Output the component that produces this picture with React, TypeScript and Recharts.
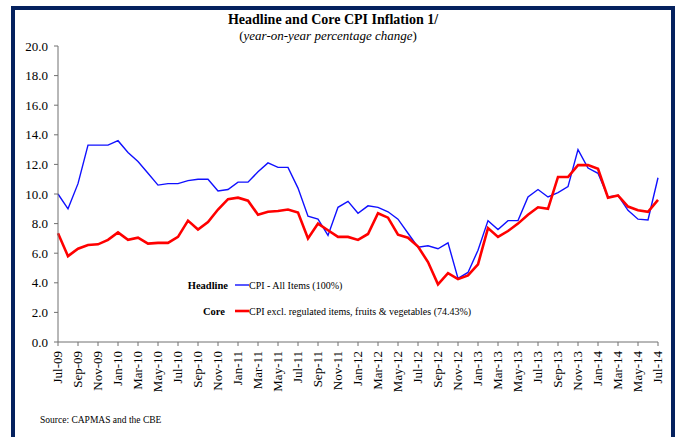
import React from "react";
import { LineChart, Line, XAxis, YAxis } from "recharts";

const months = [
  "Jul-09","Aug-09","Sep-09","Oct-09","Nov-09","Dec-09",
  "Jan-10","Feb-10","Mar-10","Apr-10","May-10","Jun-10",
  "Jul-10","Aug-10","Sep-10","Oct-10","Nov-10","Dec-10",
  "Jan-11","Feb-11","Mar-11","Apr-11","May-11","Jun-11",
  "Jul-11","Aug-11","Sep-11","Oct-11","Nov-11","Dec-11",
  "Jan-12","Feb-12","Mar-12","Apr-12","May-12","Jun-12",
  "Jul-12","Aug-12","Sep-12","Oct-12","Nov-12","Dec-12",
  "Jan-13","Feb-13","Mar-13","Apr-13","May-13","Jun-13",
  "Jul-13","Aug-13","Sep-13","Oct-13","Nov-13","Dec-13",
  "Jan-14","Feb-14","Mar-14","Apr-14","May-14","Jun-14",
  "Jul-14",
];

const headline = [
  10.0, 9.0, 10.7, 13.3, 13.3, 13.3, 13.6, 12.8, 12.2, 11.4, 10.6, 10.7,
  10.7, 10.9, 11.0, 11.0, 10.2, 10.3, 10.8, 10.8, 11.5, 12.1, 11.8, 11.8,
  10.4, 8.5, 8.3, 7.2, 9.1, 9.5, 8.7, 9.2, 9.1, 8.8, 8.3, 7.35,
  6.4, 6.5, 6.3, 6.7, 4.3, 4.7, 6.2, 8.2, 7.6, 8.2, 8.2, 9.8,
  10.3, 9.8, 10.1, 10.5, 13.0, 11.75, 11.4, 9.8, 9.9, 8.9, 8.3, 8.25,
  11.1,
];

const core = [
  7.35, 5.8, 6.3, 6.55, 6.6, 6.9, 7.4, 6.9, 7.05, 6.65, 6.7, 6.7,
  7.1, 8.2, 7.6, 8.1, 8.95, 9.65, 9.75, 9.55, 8.6, 8.8, 8.85, 8.95,
  8.75, 7.0, 8.0, 7.55, 7.1, 7.1, 6.9, 7.3, 8.7, 8.4, 7.25, 7.05,
  6.45, 5.4, 3.9, 4.65, 4.25, 4.5, 5.25, 7.7, 7.1, 7.5, 8.0, 8.6,
  9.1, 9.0, 11.15, 11.15, 11.95, 11.95, 11.7, 9.75, 9.9, 9.15, 8.9, 8.8,
  9.6,
];

const yTicks = [0, 2, 4, 6, 8, 10, 12, 14, 16, 18, 20];

const data = months.map((m, i) => ({ m, headline: headline[i], core: core[i] }));

const FONT = '"Liberation Serif", "Times New Roman", serif';
const AXIS = "#707070";

const XTick = (props: any) => {
  const { x, y, payload } = props;
  return (
    <g transform={`translate(${x},${y})`}>
      <text
        transform="rotate(-90)"
        x={0}
        y={4}
        textAnchor="end"
        fontSize={13}
        fontFamily={FONT}
        fill="#000"
      >
        {payload.value}
      </text>
    </g>
  );
};

export default function App() {
  return (
    <div
      style={{
        position: "absolute",
        left: 0,
        top: 0,
        width: 679,
        height: 437,
        overflow: "hidden",
        background: "#fff",
        fontFamily: FONT,
      }}
    >
      <div
        style={{
          position: "absolute",
          left: 11,
          top: 6,
          width: 664,
          height: 480,
          boxSizing: "border-box",
          border: "4px solid #05215e",
        }}
      />
      <LineChart
        width={679}
        height={437}
        data={data}
        margin={{ top: 46, right: 21, bottom: 0, left: 0 }}
        style={{ position: "absolute", left: 0, top: 0 }}
      >
        <XAxis
          dataKey="m"
          interval={1}
          tickSize={4}
          tickMargin={5}
          height={95}
          axisLine={{ stroke: AXIS }}
          tickLine={{ stroke: AXIS }}
          tick={<XTick />}
        />
        <YAxis
          domain={[0, 20]}
          ticks={yTicks}
          width={58}
          tickSize={4}
          tickMargin={6}
          interval={0}
          tickFormatter={(v: number) => v.toFixed(1)}
          axisLine={{ stroke: AXIS }}
          tickLine={{ stroke: AXIS }}
          tick={{ fontSize: 13, fontFamily: FONT, fill: "#000" }}
        />
        <Line
          type="linear"
          dataKey="headline"
          stroke="#1010ff"
          strokeWidth={1.4}
          dot={false}
          isAnimationActive={false}
        />
        <Line
          type="linear"
          dataKey="core"
          stroke="#ff0000"
          strokeWidth={2.6}
          dot={false}
          isAnimationActive={false}
        />
      </LineChart>
      <svg
        width={679}
        height={437}
        style={{ position: "absolute", left: 0, top: 0, pointerEvents: "none" }}
      >
        <text x={333} y={24} textAnchor="middle" fontSize={14} fontWeight="bold" fontFamily={FONT} fill="#000">
          Headline and Core CPI Inflation 1/
        </text>
        <text x={328} y={40} textAnchor="middle" fontSize={13} fontFamily={FONT} fill="#000">
          (<tspan fontStyle="italic">year-on-year percentage change</tspan>)
        </text>
        <text x={228} y={289} textAnchor="end" fontSize={10.5} fontWeight="bold" fontFamily={FONT} fill="#000">
          Headline
        </text>
        <line x1={235} y1={285} x2={249} y2={285} stroke="#1010ff" strokeWidth={1.4} />
        <text x={249} y={289} fontSize={10} fontFamily={FONT} fill="#000">
          CPI - All Items (100%)
        </text>
        <text x={225} y={315} textAnchor="end" fontSize={10.5} fontWeight="bold" fontFamily={FONT} fill="#000">
          Core
        </text>
        <line x1={235} y1={311} x2={249} y2={311} stroke="#ff0000" strokeWidth={2.6} />
        <text x={249} y={315} fontSize={10} fontFamily={FONT} fill="#000">
          CPI excl. regulated items, fruits &amp; vegetables (74.43%)
        </text>
        <text x={40} y={423} fontSize={9.5} fontFamily={FONT} fill="#000">
          Source: CAPMAS and the CBE
        </text>
      </svg>
    </div>
  );
}
